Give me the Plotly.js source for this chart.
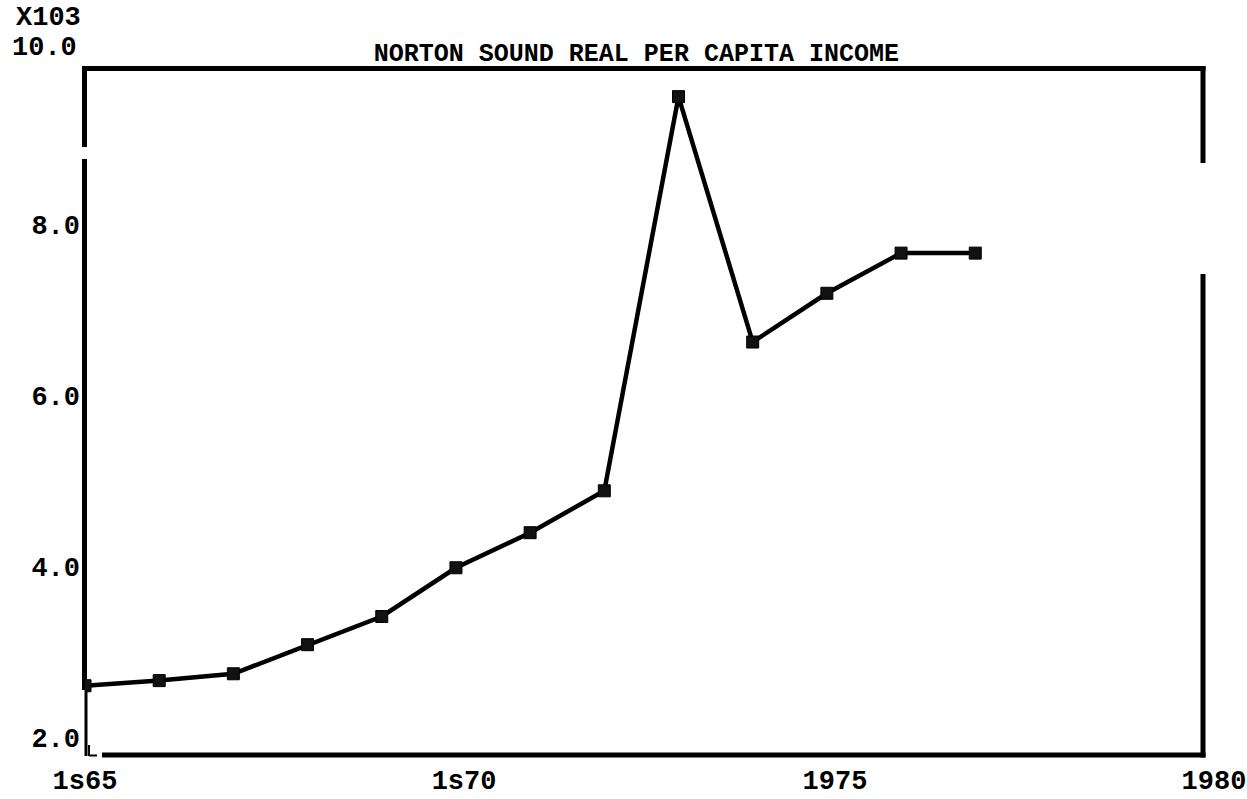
<!DOCTYPE html>
<html>
<head>
<meta charset="utf-8">
<script src="https://cdn.plot.ly/plotly-3.0.1.min.js"></script>
<style>html,body{margin:0;padding:0;background:#fff;}</style>
</head>
<body>
<div id="chart" style="width:1247px;height:799px;"></div>
<script>
// Data (values in thousands of dollars)
const years = [1965, 1966, 1967, 1968, 1969, 1970, 1971, 1972, 1973, 1974, 1975, 1976, 1977];
const income = [2.61, 2.67, 2.75, 3.09, 3.42, 3.99, 4.40, 4.89, 9.50, 6.63, 7.20, 7.67, 7.67];
const xTickVals = [1965, 1970, 1975, 1980];
const xTickText = ["<b>1s65</b>", "&nbsp;<b>1s70</b>", "&nbsp;<b>1975</b>", "&nbsp;&nbsp;<b>1980</b>"];
const yTickVals = [2, 4, 6, 8];
const yTickText = ["<b>2.0</b>", "<b>4.0</b>", "<b>6.0</b>", "<b>8.0</b>"];
const titleText = "<b>NORTON SOUND REAL PER CAPITA INCOME</b>";

const trace = {
  x: years,
  y: income,
  type: "scatter",
  mode: "lines+markers",
  line: {color: "#000", width: 4.5},
  marker: {symbol: "square", size: 12, color: "#111", line: {color: "#000", width: 1}},
  hoverinfo: "x+y",
  showlegend: false
};

const frameW = 5;
function seg(x0, y0, x1, y1, w) {
  return {type: "line", xref: "paper", yref: "paper", x0: x0, y0: y0, x1: x1, y1: y1,
          line: {color: "#000", width: w || frameW}, layer: "below"};
}
// plot area: x 85..1203 px, y 68..755 px
const px = v => (v - 85) / 1118;
const py = v => (755 - v) / 687;

const shapes = [
  seg(px(82.5), py(68.5), px(1205.5), py(68.5)),           // top
  seg(px(84.5), py(66), px(84.5), py(147)),                // left upper
  seg(px(84.5), py(159), px(84.5), py(690)),               // left middle
  seg(px(86), py(690), px(86), py(756), 3),                // left lower (thinner)
  seg(px(1203), py(66), px(1203), py(163)),                // right upper
  seg(px(1203), py(274), px(1203), py(757.5)),             // right lower
  seg(px(102), py(755), px(1205.5), py(755)),              // bottom
  seg(px(89), py(745), px(89), py(756), 2),                // small L mark
  seg(px(89), py(755.5), px(97), py(755.5), 2)
];

const mono = "Liberation Mono, DejaVu Sans Mono, monospace";

const layout = {
  width: 1247,
  height: 799,
  paper_bgcolor: "#fff",
  plot_bgcolor: "#fff",
  margin: {l: 85, r: 44, t: 68, b: 44, pad: 0},
  title: {
    text: titleText,
    font: {family: mono, size: 25, color: "#000"},
    x: 615 / 1247, xanchor: "center", xref: "paper",
    y: 1 - 52 / 799, yanchor: "middle", yref: "container"
  },
  xaxis: {
    range: [1965, 1980.07],
    tickvals: xTickVals,
    ticktext: xTickText,
    showgrid: false, zeroline: false, showline: false, ticks: "",
    ticklabelstandoff: 6,
    tickfont: {family: mono, size: 27, color: "#000"},
    fixedrange: true
  },
  yaxis: {
    range: [1.80, 9.835],
    tickvals: yTickVals,
    ticktext: yTickText,
    showgrid: false, zeroline: false, showline: false, ticks: "",
    ticklabelstandoff: 4,
    tickfont: {family: mono, size: 27, color: "#000"},
    fixedrange: true
  },
  shapes: shapes,
  annotations: [
    {text: "<b>X103</b>", xref: "paper", yref: "paper", x: px(48), y: py(18),
     xanchor: "center", yanchor: "middle", showarrow: false,
     font: {family: mono, size: 27, color: "#000"}},
    {text: "<b>10.0</b>", xref: "paper", yref: "paper", x: px(44), y: py(48),
     xanchor: "center", yanchor: "middle", showarrow: false,
     font: {family: mono, size: 27, color: "#000"}}
  ]
};

Plotly.newPlot("chart", [trace], layout, {displayModeBar: false, staticPlot: true});
</script>
</body>
</html>
